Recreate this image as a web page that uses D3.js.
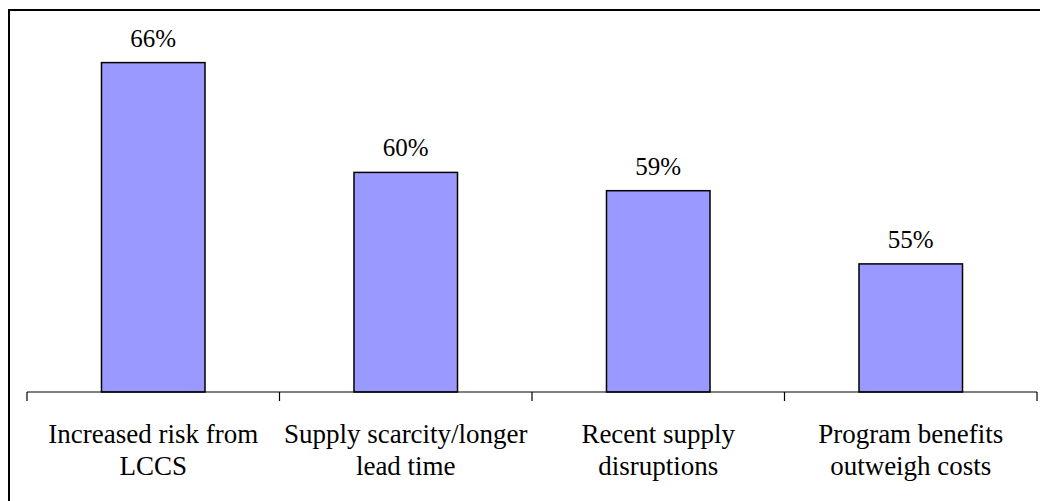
<!DOCTYPE html>
<html>
<head>
<meta charset="utf-8">
<script src="https://cdn.jsdelivr.net/npm/d3@7"></script>
<style>
  html, body { margin: 0; padding: 0; background: #fff; }
  svg { display: block; }
  svg text, svg tspan { font-family: "Liberation Serif" !important; }
</style>
</head>
<body>
<svg id="chart" width="1040" height="501" font-family="Liberation Serif"></svg>
<script>
// Reasons cited, share of respondents (%)
const categories = [
  ["Increased risk from", "LCCS"],
  ["Supply scarcity/longer", "lead time"],
  ["Recent supply", "disruptions"],
  ["Program benefits", "outweigh costs"]
];
const values = [66, 60, 59, 55];
const valueLabels = ["66%", "60%", "59%", "55%"];
const yDomain = [48, 68];

const FONT = "Liberation Serif";

const svg = d3.select("#chart");
const W = 1040, H = 501;

// chart frame (runs past the right and bottom edges)
svg.append("rect")
  .attr("x", 9).attr("y", 10)
  .attr("width", W + 20).attr("height", H + 20)
  .attr("fill", "#fff")
  .attr("stroke", "#000")
  .attr("stroke-width", 2);

const plot = { left: 27, right: 1037, top: 26, bottom: 392 };

const keys = categories.map((c, i) => i);
const x = d3.scaleBand()
  .domain(keys)
  .range([plot.left, plot.right])
  .paddingInner(0.59)
  .paddingOuter(0.295);

const band = d3.scaleBand().domain(keys).range([plot.left, plot.right]);

const y = d3.scaleLinear().domain(yDomain).range([plot.bottom, plot.top]);

// bars
svg.append("g").selectAll("rect")
  .data(values)
  .join("rect")
  .attr("x", (d, i) => x(i))
  .attr("y", d => y(d))
  .attr("width", x.bandwidth())
  .attr("height", d => y(yDomain[0]) - y(d))
  .attr("fill", "#9999FF")
  .attr("stroke", "#000")
  .attr("stroke-width", 1.5);

// category axis: baseline and ticks between categories
const axisG = svg.append("g");
axisG.append("line")
  .attr("x1", plot.left).attr("x2", plot.right)
  .attr("y1", y(yDomain[0])).attr("y2", y(yDomain[0]))
  .attr("stroke", "#000").attr("stroke-width", 1.2);

const tickXs = keys.map(i => band(i)).concat([band(keys.length - 1) + band.bandwidth()]);
axisG.selectAll("line.tick")
  .data(tickXs)
  .join("line")
  .attr("class", "tick")
  .attr("x1", d => d).attr("x2", d => d)
  .attr("y1", y(yDomain[0])).attr("y2", y(yDomain[0]) + 9)
  .attr("stroke", "#000").attr("stroke-width", 1.2);

// value labels above bars
svg.append("g").selectAll("text")
  .data(values)
  .join("text")
  .attr("x", (d, i) => x(i) + x.bandwidth() / 2)
  .attr("y", d => y(d) - 16)
  .attr("text-anchor", "middle")
  .attr("font-family", FONT)
  .style("font-family", d => "'" + FONT + "'")
  .style("font-size", "25px")
  .text((d, i) => valueLabels[i]);

// category labels, one text per line
categories.forEach((lines, i) => {
  const cx = band(i) + band.bandwidth() / 2;
  svg.selectAll(null)
    .data(lines)
    .enter().append("text")
    .attr("x", cx)
    .attr("y", (d, j) => 443 + j * 32)
    .attr("text-anchor", "middle")
    .attr("font-family", FONT)
    .style("font-family", d => "'" + FONT + "'")
    .style("font-size", "27px")
    .text(d => d);
});
</script>
</body>
</html>
